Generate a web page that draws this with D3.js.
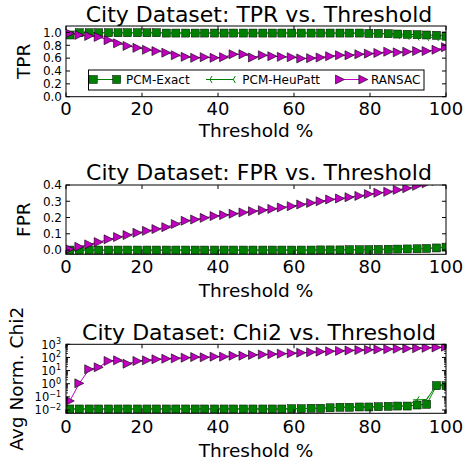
<!DOCTYPE html>
<html><head><meta charset="utf-8">
<script src="https://cdn.jsdelivr.net/npm/d3@7"></script>
<style>body{margin:0;background:#fff}text{font-family:"DejaVu Sans",sans-serif;fill:#000}</style>
</head><body><svg id="c" width="465" height="462" xmlns="http://www.w3.org/2000/svg"></svg>
<script>
// ---------------- data ----------------
const thresholds = [1.0, 3.5, 6.1, 8.6, 11.2, 13.7, 16.2, 18.8, 21.3, 23.8, 26.4, 28.9, 31.5, 34.0, 36.5, 39.1, 41.6, 44.1, 46.7, 49.2,
  51.8, 54.3, 56.8, 59.4, 61.9, 64.5, 67.0, 69.5, 72.1, 74.6, 77.2, 79.7, 82.2, 84.8, 87.3, 89.8, 92.4, 94.9, 97.5, 100];
const seriesNames = ["PCM-Exact", "PCM-HeuPatt", "RANSAC"];

const tprExact = [0.96, 0.995, 0.995, 0.995, 0.995, 0.995, 0.995, 0.995, 0.995, 0.995, 0.99, 0.99, 0.99, 0.99, 0.99, 0.99, 0.99, 0.99, 0.99, 0.99,
  0.99, 0.99, 0.99, 0.99, 0.99, 0.99, 0.99, 0.99, 0.99, 0.99, 0.99, 0.985, 0.985, 0.98, 0.975, 0.97, 0.965, 0.96, 0.955, 0.945];
const tprHeu = [0.96, 0.995, 0.995, 0.995, 0.995, 0.995, 0.995, 0.995, 0.995, 0.995, 0.99, 0.99, 0.99, 0.99, 0.99, 0.99, 0.99, 0.99, 0.99, 0.99,
  0.99, 0.99, 0.99, 0.99, 0.99, 0.99, 0.99, 0.99, 0.99, 0.99, 0.985, 0.98, 0.98, 0.975, 0.95, 0.94, 0.93, 0.925, 0.92, 0.88];
const tprRansac = [0.985, 0.96, 0.945, 0.93, 0.88, 0.83, 0.79, 0.76, 0.73, 0.71, 0.685, 0.645, 0.62, 0.605, 0.615, 0.605, 0.615, 0.66, 0.66,
  0.61, 0.645, 0.63, 0.62, 0.615, 0.595, 0.60, 0.61, 0.63, 0.645, 0.645, 0.66, 0.67, 0.68, 0.70, 0.69, 0.70, 0.71, 0.71, 0.73, 0.77];

const fprExact = [0.0, 0.0, 0.0, 0.0, 0.0, 0.0, 0.0, 0.0, 0.0, 0.0, 0.0, 0.0, 0.0, 0.0, 0.0, 0.0, 0.0, 0.0, 0.0, 0.0,
  0.0, 0.0, 0.0, 0.0, 0.0, 0.0, 0.001, 0.001, 0.001, 0.002, 0.002, 0.003, 0.004, 0.005, 0.006, 0.007, 0.008, 0.010, 0.013, 0.018];
const fprHeu = [0.0, 0.0, 0.0, 0.0, 0.0, 0.0, 0.0, 0.0, 0.0, 0.0, 0.0, 0.0, 0.0, 0.0, 0.0, 0.0, 0.0, 0.0, 0.0, 0.0,
  0.0, 0.0, 0.0, 0.0, 0.0, 0.0, 0.001, 0.001, 0.001, 0.002, 0.002, 0.003, 0.004, 0.005, 0.006, 0.007, 0.009, 0.011, 0.014, 0.019];
const fprRansac = [0.006, 0.02, 0.035, 0.049, 0.066, 0.08, 0.092, 0.106, 0.118, 0.129, 0.141, 0.16, 0.18,
  0.188, 0.198, 0.209, 0.215, 0.223, 0.231, 0.239, 0.245, 0.253, 0.262, 0.27, 0.28, 0.29, 0.30,
  0.311, 0.317, 0.325, 0.333, 0.344, 0.352, 0.358, 0.370, 0.380, 0.395, 0.41, 0.425, 0.44];

const chiExact = [0.012, 0.012, 0.012, 0.012, 0.012, 0.012, 0.012, 0.012, 0.012, 0.012, 0.012, 0.012, 0.012, 0.012, 0.012, 0.012, 0.012, 0.012, 0.012,
  0.012, 0.012, 0.012, 0.012, 0.0126, 0.0126, 0.0135, 0.0135, 0.0148, 0.0162, 0.0162, 0.017, 0.017, 0.0178, 0.019, 0.02, 0.02, 0.024, 0.027, 0.71, 0.71];
const chiHeu = [0.012, 0.012, 0.012, 0.012, 0.012, 0.012, 0.012, 0.012, 0.012, 0.012, 0.012, 0.012, 0.012, 0.012, 0.012, 0.012, 0.012, 0.012, 0.012,
  0.012, 0.012, 0.012, 0.012, 0.0126, 0.0126, 0.0135, 0.0135, 0.0148, 0.0162, 0.0162, 0.017, 0.017, 0.0178, 0.019, 0.02, 0.02, 0.06, 0.062, 0.85, 0.85];
const chiRansac = [0.049, 1.07, 12.6, 17.8, 53.7, 60.3, 33.1, 53.7, 60.3, 72.4, 79.4, 85.1, 95.5, 107, 102, 115, 115, 135, 135, 155,
  166, 178, 191, 209, 229, 251, 275, 295, 316, 339, 363, 380, 407, 427, 457, 479, 501, 537, 575, 661];

const xTicks = [0, 20, 40, 60, 80, 100];
const tprTicks = [0.0, 0.2, 0.4, 0.6, 0.8, 1.0];
const fprTicks = [0.0, 0.1, 0.2, 0.3, 0.4];
const chiTicks = [1e-2, 1e-1, 1e0, 1e1, 1e2, 1e3];

// ---------------- drawing ----------------
const svg = d3.select("#c");
const GREEN = "#008000", MAG = "#bf00bf";
const X0 = 66, X1 = 446;
const x = d3.scaleLinear().domain([0, 100]).range([X0, X1]);

function sq(g, s) { g.append("rect").attr("x", -s/2).attr("y", -s/2).attr("width", s).attr("height", s)
  .attr("fill", GREEN).attr("stroke", "#000").attr("stroke-width", 0.5); }
function tri(g, r) { g.append("path").attr("d", `M${r},0L${-r},${-r}L${-r},${r}Z`)
  .attr("fill", MAG).attr("stroke", "#000").attr("stroke-width", 0.6); }
function heu(g) { g.append("path").attr("d", "M0,0L-4,0M0,0L2,-3.5M0,0L2,3.5")
  .attr("fill", "none").attr("stroke", GREEN).attr("stroke-width", 1); }

let clipId = 0;
function panel(cfg) {
  const { top, bottom, y, yTicks, yFmt, series, title, ylabel, ylabelX, titleY, tickY, xlabelY, log } = cfg;
  const g = svg.append("g");
  const id = "clip" + (clipId++);
  svg.append("clipPath").attr("id", id).append("rect")
    .attr("x", X0).attr("y", top).attr("width", X1 - X0).attr("height", bottom - top);
  const pg = g.append("g").attr("clip-path", `url(#${id})`);

  series.forEach((s, si) => {
    const line = d3.line().x((d, i) => x(thresholds[i])).y(d => y(d));
    pg.append("path").datum(s.values).attr("d", line).attr("fill", "none")
      .attr("stroke", s.color).attr("stroke-width", 1);
    s.values.forEach((v, i) => {
      const mg = pg.append("g").attr("transform", `translate(${x(thresholds[i])},${y(v)})`);
      s.marker(mg);
    });
  });

  // frame
  g.append("rect").attr("x", X0).attr("y", top).attr("width", X1 - X0).attr("height", bottom - top)
    .attr("fill", "none").attr("stroke", "#000").attr("stroke-width", 1);

  // x ticks
  xTicks.forEach(t => {
    const px = x(t);
    g.append("line").attr("x1", px).attr("x2", px).attr("y1", bottom).attr("y2", bottom - 4).attr("stroke", "#000");
    g.append("line").attr("x1", px).attr("x2", px).attr("y1", top).attr("y2", top + 4).attr("stroke", "#000");
    g.append("text").attr("x", px).attr("y", tickY).attr("text-anchor", "middle").attr("font-size", 18).text(t);
  });
  // y ticks
  yTicks.forEach(t => {
    const py = y(t);
    g.append("line").attr("x1", X0).attr("x2", X0 + 4).attr("y1", py).attr("y2", py).attr("stroke", "#000");
    g.append("line").attr("x1", X1).attr("x2", X1 - 4).attr("y1", py).attr("y2", py).attr("stroke", "#000");
    if (log) {
      const e = Math.round(Math.log10(t));
      const tx = g.append("text").attr("x", 61).attr("y", py + 4.3).attr("text-anchor", "end").attr("font-size", 11.5);
      tx.append("tspan").text("10");
      tx.append("tspan").attr("dy", -4.5).attr("font-size", 8).text(e < 0 ? "\u2212" + (-e) : e);
    } else {
      g.append("text").attr("x", 62).attr("y", py + 4.3).attr("text-anchor", "end").attr("font-size", 12).text(yFmt(t));
    }
  });
  if (log) {
    const [d0, d1] = y.domain();
    for (let k = -3; k <= 3; k++) for (let m = 2; m <= 9; m++) {
      const v = m * Math.pow(10, k);
      if (v < d0 || v > d1) continue;
      const py = y(v);
      g.append("line").attr("x1", X0).attr("x2", X0 + 2).attr("y1", py).attr("y2", py).attr("stroke", "#000").attr("stroke-width", 0.8);
      g.append("line").attr("x1", X1).attr("x2", X1 - 2).attr("y1", py).attr("y2", py).attr("stroke", "#000").attr("stroke-width", 0.8);
    }
  }
  // labels
  g.append("text").attr("x", 259).attr("y", titleY).attr("text-anchor", "middle").attr("font-size", 22).text(title);
  g.append("text").attr("x", 256).attr("y", xlabelY).attr("text-anchor", "middle").attr("font-size", 18.5).text("Threshold %");
  g.append("text").attr("transform", `translate(${ylabelX},${(top + bottom) / 2}) rotate(-90)`)
    .attr("text-anchor", "middle").attr("font-size", 18.5).text(ylabel);
  return g;
}

function mkSeries(a, b, c) {
  return [
    { name: seriesNames[0], values: a, color: GREEN, marker: g => sq(g, 8) },
    { name: seriesNames[1], values: b, color: GREEN, marker: g => heu(g) },
    { name: seriesNames[2], values: c, color: MAG, marker: g => tri(g, 4.5) }
  ];
}

// Panel 1: TPR
const y1 = d3.scaleLinear().domain([0, 1.1]).range([96.7, 26]);
const p1 = panel({ top: 26, bottom: 96.7, y: y1, yTicks: tprTicks, yFmt: d3.format(".1f"),
  series: mkSeries(tprExact, tprHeu, tprRansac), title: "City Dataset: TPR vs. Threshold",
  ylabel: "TPR", ylabelX: 30, titleY: 21.5, tickY: 114.5, xlabelY: 136.5 });

// legend
const lg = p1.append("g");
lg.append("rect").attr("x", 88.5).attr("y", 70).attr("width", 335.5).attr("height", 20)
  .attr("fill", "#fff").attr("stroke", "#000").attr("stroke-width", 1);
const legX = [[93.3, 116.7, 126], [210, 233.3, 242.3], [340, 363.3, 371]];
const ls = mkSeries([], [], []);
ls.forEach((s, i) => {
  const [a, b, t] = legX[i];
  lg.append("line").attr("x1", a).attr("x2", b).attr("y1", 79.5).attr("y2", 79.5).attr("stroke", s.color).attr("stroke-width", 1);
  [a, b].forEach(px => s.marker(lg.append("g").attr("transform", `translate(${px},79.5)`)));
  lg.append("text").attr("x", t).attr("y", 84.3).attr("font-size", 12).text(s.name);
});

// Panel 2: FPR
const y2 = d3.scaleLinear().domain([-0.026, 0.4]).range([254.3, 185]);
panel({ top: 185, bottom: 254.3, y: y2, yTicks: fprTicks, yFmt: d3.format(".1f"),
  series: mkSeries(fprExact, fprHeu, fprRansac), title: "City Dataset: FPR vs. Threshold",
  ylabel: "FPR", ylabelX: 30, titleY: 179.5, tickY: 273, xlabelY: 296.5 });

// Panel 3: Chi2
const y3 = d3.scaleLog().domain([Math.pow(10, -2.25), 1000]).range([413.3, 344.3]);
panel({ top: 344.3, bottom: 413.3, y: y3, yTicks: chiTicks, log: true,
  series: mkSeries(chiExact, chiHeu, chiRansac), title: "City Dataset: Chi2 vs. Threshold",
  ylabel: "Avg Norm. Chi2", ylabelX: 23, titleY: 339.5, tickY: 432.5, xlabelY: 456.5 });
</script></body></html>
